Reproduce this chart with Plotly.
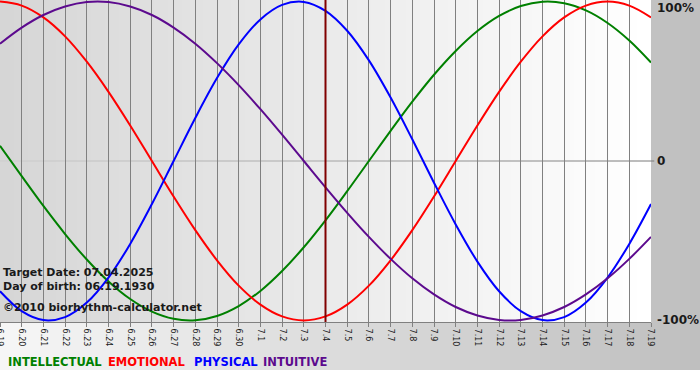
import plotly.graph_objects as go

# ---------------- data ----------------
dates = ["6.19", "6.20", "6.21", "6.22", "6.23", "6.24", "6.25", "6.26", "6.27", "6.28",
         "6.29", "6.30", "7.1", "7.2", "7.3", "7.4", "7.5", "7.6", "7.7", "7.8", "7.9",
         "7.10", "7.11", "7.12", "7.13", "7.14", "7.15", "7.16", "7.17", "7.18", "7.19"]

intellectual = [9.5, -9.5, -28.2, -45.8, -61.8, -75.6, -86.6, -94.5, -99.0, -99.9, -97.2, -91.0,
                -81.5, -69.0, -54.1, -37.2, -18.9, 0.0, 18.9, 37.2, 54.1, 69.0, 81.5, 91.0,
                97.2, 99.9, 99.0, 94.5, 86.6, 75.6, 61.8]
emotional = [100.0, 97.5, 90.1, 78.2, 62.3, 43.4, 22.3, 0.0, -22.3, -43.4, -62.3, -78.2,
             -90.1, -97.5, -100.0, -97.5, -90.1, -78.2, -62.3, -43.4, -22.3, 0.0, 22.3, 43.4,
             62.3, 78.2, 90.1, 97.5, 100.0, 97.5, 90.1]
physical = [-81.7, -94.2, -99.8, -97.9, -88.8, -73.1, -52.0, -27.0, 0.0, 27.0, 52.0, 73.1,
            88.8, 97.9, 99.8, 94.2, 81.7, 63.1, 39.8, 13.6, -13.6, -39.8, -63.1, -81.7,
            -94.2, -99.8, -97.9, -88.8, -73.1, -52.0, -27.0]
intuitive = [73.6, 83.7, 91.6, 96.9, 99.7, 99.7, 96.9, 91.6, 83.7, 73.6, 61.4, 47.6,
             32.5, 16.5, 0.0, -16.5, -32.5, -47.6, -61.4, -73.6, -83.7, -91.6, -96.9, -99.7,
             -99.7, -96.9, -91.6, -83.7, -73.6, -61.4, -47.6]

series_names = ["INTELLECTUAL", "EMOTIONAL", "PHYSICAL", "INTUITIVE"]
target_date = "7.4"
info_lines = ["Target Date: 07.04.2025", "Day of birth: 06.19.1930", "\u00a92010 biorhythm-calculator.net"]
y_labels = ["100%", "0", "-100%"]
y_label_vals = [100, 0, -100]

# ---------------- styles ----------------
colors = ["#008000", "#ff0000", "#0000ff", "#5c0a8e"]
legend_px = [6, 106, 192, 261]
W, H = 700, 380
ML, MR, MT, MB = 0, 49, 0, 58
PW = W - ML - MR   # 651
PH = H - MT - MB   # 322
FONT = "DejaVu Sans, Verdana, sans-serif"

def px_x(px):
    return (px - ML) / PW

def px_y(py):
    return (MT + PH - py) / PH

def lerp_hex(c0, c1, t):
    a = [int(c0[i:i + 2], 16) for i in (1, 3, 5)]
    b = [int(c1[i:i + 2], 16) for i in (1, 3, 5)]
    return "#" + "".join(f"{round(a[k] + (b[k] - a[k]) * t):02x}" for k in range(3))

xs = list(range(len(dates)))
fig = go.Figure()
for name, vals, col in zip(series_names, [intellectual, emotional, physical, intuitive], colors):
    fig.add_trace(go.Scatter(x=xs, y=vals, mode="lines", name=name,
                             line=dict(color=col, width=2, shape="spline"),
                             hoverinfo="skip", showlegend=False))

shapes = []
# outer frame gradient (bottom strip + right margin)
n = 70
for i in range(n):
    x0 = i * W / n
    x1 = (i + 1) * W / n + 0.6
    shapes.append(dict(type="rect", xref="paper", yref="paper",
                       x0=px_x(x0), x1=px_x(x1), y0=px_y(370), y1=px_y(0),
                       fillcolor=lerp_hex("#f6f6f6", "#bfbfbf", i / (n - 1)),
                       line=dict(width=0), layer="below"))
# plot area gradient
n = 93
for i in range(n):
    x0 = i * PW / n
    x1 = min((i + 1) * PW / n + 0.6, PW)
    shapes.append(dict(type="rect", xref="paper", yref="paper",
                       x0=px_x(x0), x1=px_x(x1), y0=0, y1=1,
                       fillcolor=lerp_hex("#d6d6d6", "#ffffff", i / (n - 1)),
                       line=dict(width=0), layer="below"))
# zero line (fading from left to right)
n = 30
for i in range(n):
    shapes.append(dict(type="line", xref="paper", yref="y",
                       x0=i / n, x1=(i + 1) / n + (0.005 if i == n - 1 else 0), y0=0, y1=0,
                       line=dict(color=lerp_hex("#cdcdcd", "#7a7a7a", i / (n - 1)), width=1),
                       layer="below"))
# target date marker
tx = dates.index(target_date)
shapes.append(dict(type="line", xref="x", yref="paper", x0=tx, x1=tx, y0=0, y1=1,
                   line=dict(color="#800000", width=2), layer="above"))

annotations = []
for i, (txt, py) in enumerate(zip(info_lines, [272, 286, 307])):
    annotations.append(dict(text="<b>" + txt + "</b>", xref="paper", yref="paper",
                            x=px_x(1), y=px_y(py), xanchor="left", yanchor="middle",
                            showarrow=False, font=dict(family=FONT, size=11, color="#1a1a1a")))
for txt, v, sh in zip(y_labels, y_label_vals, [-6.5, 0, 0]):
    annotations.append(dict(text="<b>" + txt + "</b>", xref="paper", yref="y",
                            x=px_x(655), y=v, yshift=sh, xanchor="left", yanchor="middle",
                            showarrow=False, font=dict(family=FONT, size=12, color="#1a1a1a")))
for nm, c, lx in zip(series_names, colors, legend_px):
    annotations.append(dict(text="<b>" + nm + "</b>", xref="paper", yref="paper",
                            x=px_x(lx), y=px_y(362), xanchor="left", yanchor="middle",
                            showarrow=False, font=dict(family=FONT, size=11.5, color=c)))

fig.update_layout(
    width=W, height=H,
    margin=dict(l=ML, r=MR, t=MT, b=MB, pad=0, autoexpand=False),
    paper_bgcolor="#ffffff", plot_bgcolor="rgba(0,0,0,0)",
    shapes=shapes, annotations=annotations, showlegend=False,
    xaxis=dict(range=[0, len(dates) - 1], tickvals=xs, ticktext=dates, tickangle=90,
               showgrid=True, gridcolor="#808080", gridwidth=1,
               ticks="outside", ticklen=4, tickcolor="#808080",
               showline=True, linecolor="#808080", linewidth=1,
               zeroline=False, fixedrange=True, ticklabeloverflow="allow", automargin=False,
               tickfont=dict(family=FONT, size=8, color="#1a1a1a")),
    yaxis=dict(range=[-101, 101], showgrid=False, zeroline=False, showticklabels=False,
               showline=False, fixedrange=True, automargin=False),
)

fig.write_html("out.html", config={"displayModeBar": False},
               post_script="document.body.style.margin='0px';document.body.style.overflow='hidden';")
